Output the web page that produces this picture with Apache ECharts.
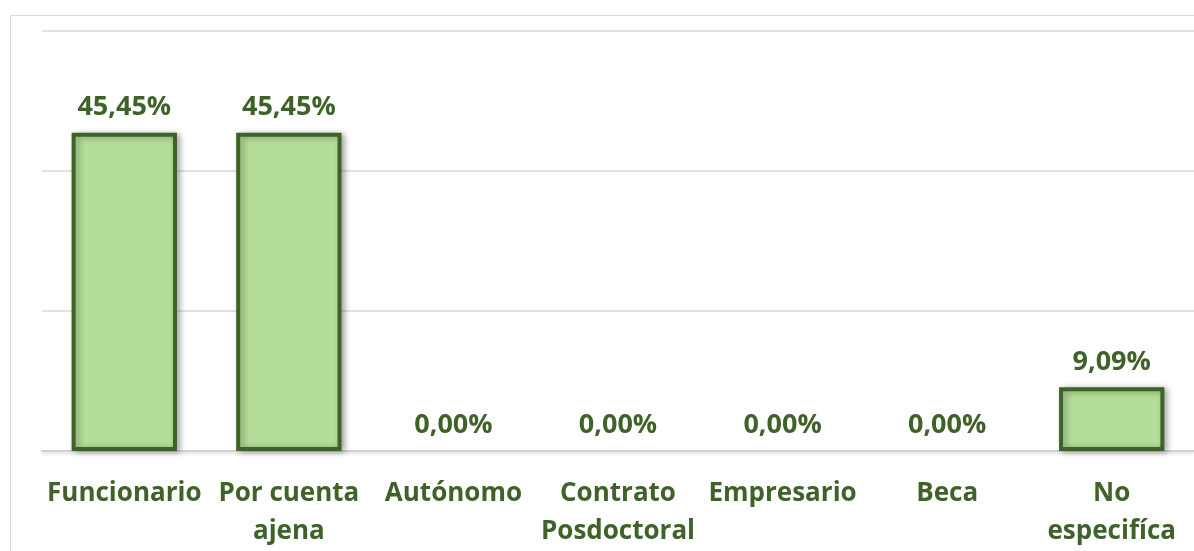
<!DOCTYPE html>
<html>
<head>
<meta charset="utf-8">
<script src="https://cdn.jsdelivr.net/npm/echarts@6/dist/echarts.min.js"></script>
<style>
  html, body { margin: 0; padding: 0; background: #fff; }
  #chart { width: 1194px; height: 551px; }
</style>
</head>
<body>
<div id="chart"></div>
<script>
// categorías y porcentajes
var categories = ['Funcionario', 'Por cuenta\najena', 'Autónomo', 'Contrato\nPosdoctoral', 'Empresario', 'Beca', 'No\nespecifíca'];
var values = [45.45, 45.45, 0, 0, 0, 0, 9.09];
var yTicks = [0, 20, 40, 60];

var green = '#3f6228';

// las barras en cero no llevan borde
var barData = values.map(function (v) {
  return v === 0 ? { value: v, itemStyle: { borderWidth: 0, shadowBlur: 0 } } : v;
});

var chart = echarts.init(document.getElementById('chart'));
chart.setOption({
  backgroundColor: '#fff',
  animation: false,
  graphic: [{
    type: 'rect',
    shape: { x: 10.5, y: 15.5, width: 1300, height: 700 },
    style: { fill: 'none', stroke: '#d9d9d9', lineWidth: 1 },
    silent: true
  }],
  grid: {
    left: 42,
    top: 31,
    width: 1166,
    bottom: 97
  },
  xAxis: {
    type: 'category',
    data: categories,
    axisTick: { show: false },
    axisLine: { lineStyle: { color: '#d0d0d0', width: 2, shadowColor: 'rgba(0,0,0,0.15)', shadowBlur: 3, shadowOffsetY: 2 } },
    axisLabel: {
      interval: 0,
      margin: 24,
      color: green,
      fontFamily: 'Open Sans',
      fontWeight: 'bold',
      fontSize: 26,
      lineHeight: 38
    }
  },
  yAxis: {
    type: 'value',
    min: yTicks[0],
    max: yTicks[yTicks.length - 1],
    interval: 20,
    axisLabel: { show: false },
    axisLine: { show: false },
    axisTick: { show: false },
    splitLine: { lineStyle: { color: '#d9d9d9', width: 1.5 } }
  },
  series: [{
    type: 'bar',
    data: barData,
    barWidth: '64%',
    itemStyle: {
      color: '#b3dd98',
      borderColor: '#3f6228',
      borderWidth: 4,
      shadowColor: 'rgba(0,0,0,0.3)',
      shadowBlur: 6,
      shadowOffsetX: 3,
      shadowOffsetY: 1
    },
    label: {
      show: true,
      position: 'top',
      distance: 12,
      color: green,
      fontFamily: 'Open Sans',
      fontWeight: 'bold',
      fontSize: 27,
      formatter: function (p) {
        return p.value.toFixed(2).replace('.', ',') + '%';
      }
    }
  }]
});
</script>
</body>
</html>
